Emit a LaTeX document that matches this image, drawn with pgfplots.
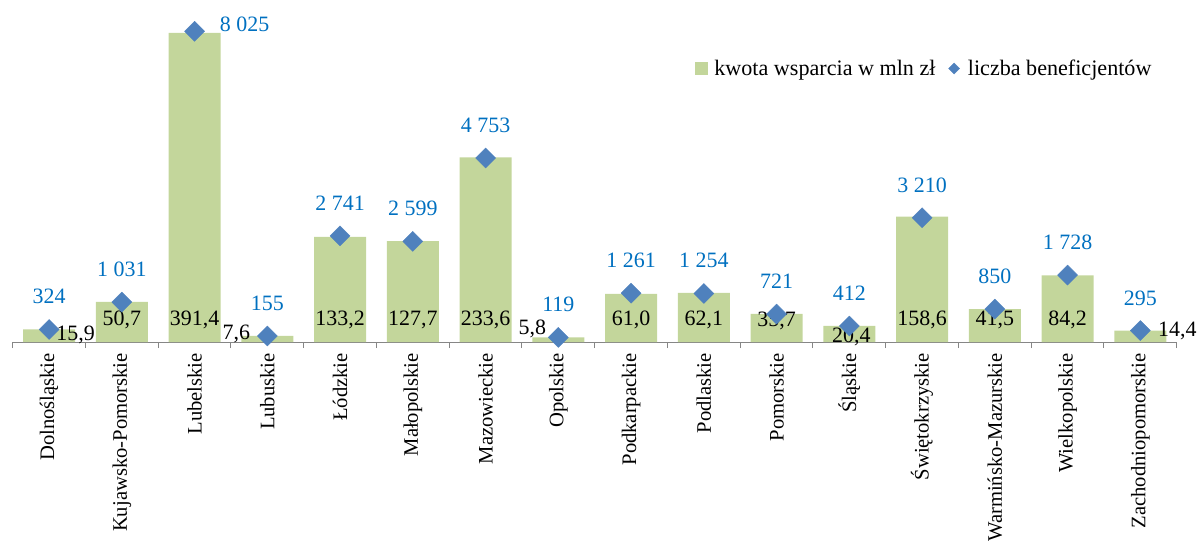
\documentclass[border=0pt]{standalone}
\usepackage{pgfplots}
\pgfplotsset{compat=1.18}
\usepackage{pgfplotstable}
\usepackage{fontspec}
\setmainfont{Liberation Serif}
\definecolor{barcol}{RGB}{195,214,155}
\definecolor{diacol}{RGB}{79,129,189}
\definecolor{lblue}{RGB}{0,112,192}
\definecolor{axgray}{RGB}{134,134,134}

\pgfplotstableread{
x amount benef
0 15.9 324
1 50.7 1031
2 391.4 8025
3 7.6 155
4 133.2 2741
5 127.7 2599
6 233.6 4753
7 5.8 119
8 61.0 1261
9 62.1 1254
10 35.7 721
11 20.4 412
12 158.6 3210
13 41.5 850
14 84.2 1728
15 14.4 295
}\data

\begin{document}
\begin{tikzpicture}
\begin{axis}[
  scale only axis, width=1164bp, height=316bp,
  xmin=-0.5, xmax=15.5, ymin=0, ymax=400,
  axis x line*=bottom, axis y line=none,
  xtick={0,...,15},
  xticklabels={Dolnośląskie,Kujawsko-Pomorskie,Lubelskie,Lubuskie,Łódzkie,Małopolskie,Mazowieckie,Opolskie,Podkarpackie,Podlaskie,Pomorskie,Śląskie,Świętokrzyskie,Warmińsko-Mazurskie,Wielkopolskie,Zachodniopomorskie},
  major tick length=0pt,
  minor xtick={-0.5,0.5,...,15.5}, minor tick length=6bp,
  tick align=outside,
  x axis line style={axgray, line width=1bp},
  minor tick style={axgray, line width=1bp},
  xticklabel style={rotate=90, anchor=east, font=\fontsize{20.7}{20.7}\selectfont, inner sep=0pt},
  xticklabel shift=11bp,
  clip=false,
]
\addplot[ybar, bar width=52bp, fill=barcol, draw=none] table[x=x,y=amount]{\data};
\tikzset{bl/.style={anchor=base, font=\fontsize{22}{22}\selectfont, text=black, inner sep=0pt}}
\node[bl, xshift=26.5bp, yshift=1.5bp] at (axis cs:0,0) {15,9};
\node[bl, yshift=16.3bp] at (axis cs:1,0) {50,7};
\node[bl, yshift=16.3bp] at (axis cs:2,0) {391,4};
\node[bl, xshift=-31bp, yshift=2.7bp] at (axis cs:3,0) {7,6};
\node[bl, yshift=16.3bp] at (axis cs:4,0) {133,2};
\node[bl, yshift=16.3bp] at (axis cs:5,0) {127,7};
\node[bl, yshift=16.3bp] at (axis cs:6,0) {233,6};
\node[bl, xshift=-26bp, yshift=8bp] at (axis cs:7,0) {5,8};
\node[bl, yshift=16.3bp] at (axis cs:8,0) {61,0};
\node[bl, yshift=16.3bp] at (axis cs:9,0) {62,1};
\node[bl, yshift=15.5bp] at (axis cs:10,0) {35,7};
\node[bl, xshift=2bp, yshift=-0.7bp] at (axis cs:11,0) {20,4};
\node[bl, yshift=16.3bp] at (axis cs:12,0) {158,6};
\node[bl, yshift=16.3bp] at (axis cs:13,0) {41,5};
\node[bl, yshift=16.3bp] at (axis cs:14,0) {84,2};
\node[bl, xshift=37bp, yshift=6bp] at (axis cs:15,0) {14,4};
\end{axis}
\begin{axis}[
  scale only axis, width=1164bp, height=316bp,
  xmin=-0.5, xmax=15.5, ymin=0, ymax=8162,
  hide x axis, hide y axis, clip=false,
  legend style={draw=none, fill=none, at={(0.586,0.8655)}, anchor=west,
    font=\fontsize{22.2}{22.2}\selectfont, inner sep=0pt,
    /tikz/every even column/.append style={column sep=11bp}},
  legend columns=2,
]
\addlegendimage{legend image code/.code={\fill[barcol] (0bp,-6bp) rectangle (12bp,6bp); \path (17bp,0bp);}}
\addlegendentry{kwota wsparcia w mln zł}
\addplot[only marks, color=diacol, mark=square*, mark size=7.07bp,
  mark options={rotate=45, fill=diacol, draw=diacol},
  legend image code/.code={\fill[diacol] (0bp,0bp)--(5.5bp,5.5bp)--(11bp,0bp)--(5.5bp,-5.5bp)--cycle; \path (17bp,0bp);},
] table[x=x,y=benef]{\data};
\addlegendentry{liczba beneficjentów}
\tikzset{bv/.style={anchor=base, font=\fontsize{22}{22}\selectfont, text=lblue, inner sep=0pt, yshift=25.5bp}}
\node[bv] at (axis cs:0,324) {324};
\node[bv] at (axis cs:1,1031) {1 031};
\node[bv, xshift=50bp, yshift=-25.5bp] at (axis cs:2,8025) {8 025};
\node[bv] at (axis cs:3,155) {155};
\node[bv] at (axis cs:4,2741) {2 741};
\node[bv] at (axis cs:5,2599) {2 599};
\node[bv] at (axis cs:6,4753) {4 753};
\node[bv] at (axis cs:7,119) {119};
\node[bv] at (axis cs:8,1261) {1 261};
\node[bv] at (axis cs:9,1254) {1 254};
\node[bv] at (axis cs:10,721) {721};
\node[bv] at (axis cs:11,412) {412};
\node[bv] at (axis cs:12,3210) {3 210};
\node[bv] at (axis cs:13,850) {850};
\node[bv] at (axis cs:14,1728) {1 728};
\node[bv] at (axis cs:15,295) {295};
\end{axis}
\pgfresetboundingbox
\path[use as bounding box] (-12.7bp,-203bp) rectangle (1187.3bp,342bp);
\end{tikzpicture}
\end{document}
